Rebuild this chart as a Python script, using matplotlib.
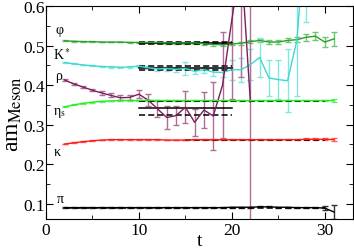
import matplotlib
matplotlib.use('Agg')
import matplotlib.pyplot as plt
from matplotlib.ticker import MultipleLocator

plt.rcParams['font.family'] = ['Liberation Serif', 'DejaVu Serif']
plt.rcParams['mathtext.fontset'] = 'stix'

# meson effective masses vs t
t_phi = list(range(2, 32))
phi = [0.512, 0.511, 0.510, 0.510, 0.509, 0.509, 0.509, 0.508, 0.508, 0.508,
       0.508, 0.507, 0.507, 0.507, 0.507, 0.505, 0.503, 0.502, 0.504, 0.506,
       0.510, 0.513, 0.509, 0.509, 0.513, 0.515, 0.521, 0.524, 0.509, 0.517]
phi_err = [0.001, 0.001, 0.001, 0.001, 0.001, 0.001, 0.001, 0.001, 0.001, 0.002,
           0.002, 0.002, 0.002, 0.002, 0.003, 0.003, 0.003, 0.003, 0.003, 0.004,
           0.004, 0.004, 0.005, 0.005, 0.005, 0.007, 0.009, 0.010, 0.013, 0.018]

t_kst = list(range(2, 29))
kst = [0.457, 0.454, 0.451, 0.449, 0.447, 0.446, 0.445, 0.446, 0.448, 0.444,
       0.441, 0.442, 0.440, 0.442, 0.435, 0.439, 0.433, 0.432, 0.439, 0.439,
       0.452, 0.470, 0.418, 0.414, 0.411, 0.513, 0.810]
kst_err = [0.001, 0.001, 0.001, 0.001, 0.002, 0.002, 0.002, 0.003, 0.003, 0.004,
           0.005, 0.005, 0.006, 0.016, 0.007, 0.008, 0.010, 0.012, 0.025, 0.030,
           0.040, 0.050, 0.045, 0.050, 0.080, 0.140, 0.250]

t_rho = list(range(2, 23))
rho = [0.413, 0.403, 0.395, 0.387, 0.380, 0.374, 0.368, 0.369, 0.377, 0.362,
       0.340, 0.318, 0.323, 0.344, 0.306, 0.337, 0.322, 0.400, 0.565, 0.720,
       0.357]
rho_err = [0.002, 0.002, 0.003, 0.003, 0.004, 0.005, 0.006, 0.007, 0.010, 0.016,
           0.020, 0.030, 0.025, 0.040, 0.034, 0.046, 0.085, 0.135, 0.200, 0.300,
           1.000]

t_eta = list(range(2, 32))
eta = [0.345, 0.350, 0.354, 0.357, 0.359, 0.360, 0.361, 0.361, 0.361, 0.362,
       0.361, 0.361, 0.361, 0.361, 0.361, 0.361, 0.361, 0.361, 0.361, 0.361,
       0.361, 0.361, 0.361, 0.361, 0.361, 0.361, 0.361, 0.361, 0.361, 0.361]
eta_err = [0.001] * 20 + [0.001, 0.001, 0.001, 0.001, 0.002, 0.002, 0.002, 0.002, 0.002, 0.003]

t_k = list(range(2, 32))
kaon = [0.251, 0.254, 0.257, 0.259, 0.261, 0.262, 0.262, 0.262, 0.262, 0.262,
        0.262, 0.261, 0.261, 0.261, 0.262, 0.262, 0.262, 0.262, 0.262, 0.262,
        0.262, 0.262, 0.262, 0.262, 0.262, 0.262, 0.263, 0.263, 0.263, 0.262]
kaon_err = [0.001] * 24 + [0.001, 0.001, 0.002, 0.002, 0.002, 0.003]

t_pi = list(range(2, 32))
pion = [0.090, 0.090, 0.090, 0.090, 0.090, 0.090, 0.090, 0.090, 0.090, 0.090,
        0.090, 0.090, 0.090, 0.090, 0.090, 0.090, 0.090, 0.090, 0.091, 0.091,
        0.091, 0.092, 0.092, 0.091, 0.091, 0.090, 0.090, 0.090, 0.089, 0.079]
pion_err = [0.001] * 27 + [0.002, 0.004, 0.018]

# fit results: (t_start, t_end, value, linestyle)
fits = [
    (10, 20, 0.507, '-'), (10, 20, 0.505, '--'), (10, 20, 0.509, '--'),
    (10, 20, 0.443, '-'), (10, 20, 0.438, '--'), (10, 20, 0.448, '--'),
    (10, 20, 0.342, '-'), (10, 20, 0.324, '--'), (10, 20, 0.360, '--'),
    (10, 30, 0.361, '--'),
    (15, 30, 0.262, '--'),
    (2, 30, 0.090, '--'),
]

labels = ['φ', 'K$^*$', 'ρ', 'η$_\\mathrm{s}$', 'κ', 'π']
label_t = [1.0, 0.7, 1.0, 0.8, 0.8, 1.2]
label_y = [0.540, 0.478, 0.424, 0.333, 0.232, 0.113]

series = [
    (t_phi, phi, phi_err, '#2a9e2a', '#6cc86c'),
    (t_kst, kst, kst_err, '#40d8d0', '#80e8e0'),
    (t_rho, rho, rho_err, '#7a1f5c', '#b06d98'),
    (t_eta, eta, eta_err, '#22ee22', '#66f066'),
    (t_k, kaon, kaon_err, '#ff1a1a', '#ff6060'),
    (t_pi, pion, pion_err, '#000000', '#333333'),
]

fig = plt.figure(figsize=(3.54, 2.53), dpi=100)
ax = fig.add_axes([0.130, 0.130, 0.866, 0.842])

for t, v, e, c, ec in series:
    ax.errorbar(t, v, yerr=e, color=c, ecolor=ec, lw=1.0, elinewidth=1.0,
                capsize=2.5, capthick=1.0)

for t0, t1, v, ls in fits:
    ax.plot([t0, t1], [v, v], color='black', lw=1.1, ls=ls, dashes=(4, 2) if ls == '--' else (None, None))

for lab, lt, ly in zip(labels, label_t, label_y):
    ax.text(lt, ly, lab, fontsize=10, ha='left', va='center')

ax.set_xlim(0, 33)
ax.set_ylim(0.061, 0.6)
ax.xaxis.set_major_locator(MultipleLocator(10))
ax.xaxis.set_minor_locator(MultipleLocator(5))
ax.yaxis.set_major_locator(MultipleLocator(0.1))
ax.yaxis.set_minor_locator(MultipleLocator(0.05))
ax.tick_params(which='both', direction='in', top=True, right=True, labelsize=12.5)
ax.tick_params(axis='y', pad=1)
ax.tick_params(axis='x', pad=2)
ax.tick_params(which='major', length=5)
ax.tick_params(which='minor', length=3)
ax.set_xlabel('t', fontsize=14, labelpad=-4)
ax.set_ylabel('am$_{\\mathrm{Meson}}$', fontsize=17)
ax.yaxis.set_label_coords(-0.072, 0.5)

fig.savefig('out.png', dpi=100)
